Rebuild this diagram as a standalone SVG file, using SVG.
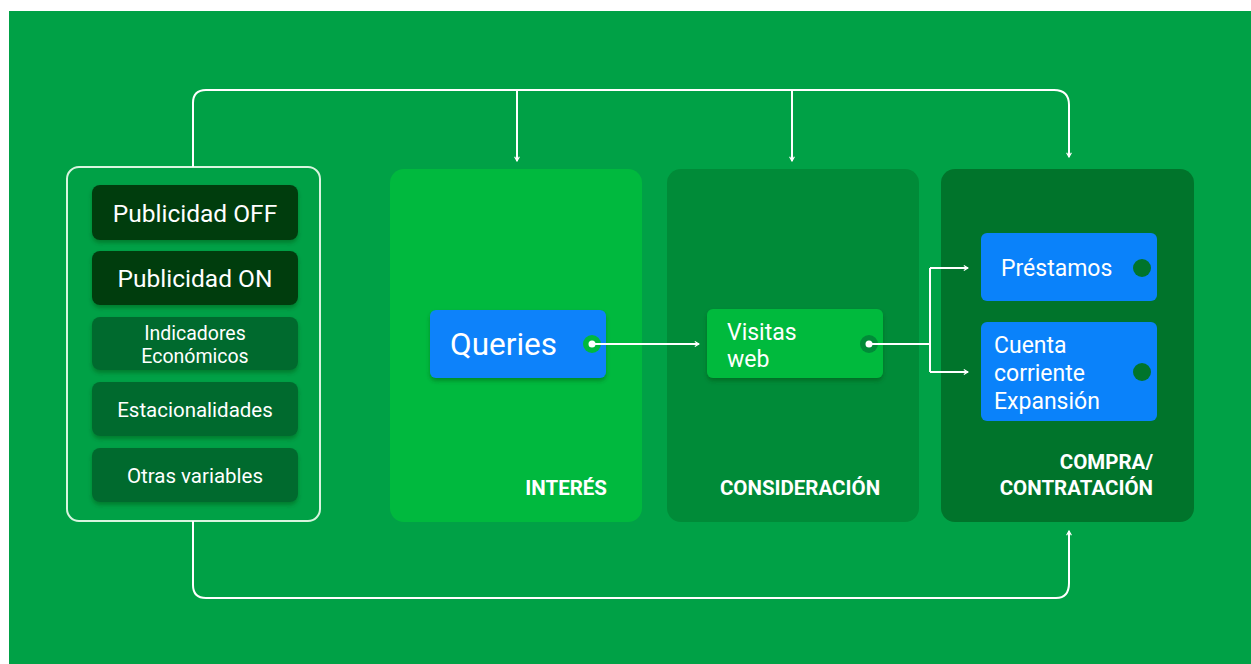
<svg xmlns="http://www.w3.org/2000/svg" width="1251" height="664" viewBox="0 0 1251 664">
  <defs>
    <marker id="ah" viewBox="0 0 10 10" refX="8" refY="5" markerWidth="6" markerHeight="6" orient="auto-start-reverse" markerUnits="userSpaceOnUse">
      <path d="M1,1 L8,5 L1,9" fill="none" stroke="#ffffff" stroke-width="2"/>
    </marker>
    <filter id="sh" x="-10%" y="-10%" width="120%" height="130%">
      <feDropShadow dx="0" dy="3" stdDeviation="2" flood-color="#003a10" flood-opacity="0.35"/>
    </filter>
  </defs>
  <style>
    .t { font-family: Roboto, "Liberation Sans", sans-serif; fill: #ffffff; }
    .lbl { font-family: Roboto, "Liberation Sans", sans-serif; font-weight: 700; fill: #ffffff; font-size: 20.5px; }
    .wire { fill: none; stroke: #ffffff; stroke-width: 2; }
    .dark { fill: #003d0f; }
    .mid { fill: #006b2e; }
    .blue { fill: #0a82fa; }
  </style>

  <rect x="0" y="0" width="1251" height="664" fill="#ffffff"/>
  <rect x="9" y="11" width="1242" height="653" fill="#00a146"/>

  <!-- stage columns -->
  <g id="interes">
    <rect x="390" y="169" width="252" height="353" rx="14" fill="#00b93e"/>
    <text class="lbl" x="607" y="495" text-anchor="end">INTERÉS</text>
  </g>
  <g id="consideracion">
    <rect x="667" y="169" width="252" height="353" rx="14" fill="#008b38"/>
    <text class="lbl" x="800" y="495" text-anchor="middle">CONSIDERACIÓN</text>
  </g>
  <g id="compra">
    <rect x="941" y="169" width="253" height="353" rx="14" fill="#00742b"/>
    <text class="lbl" x="1153" y="469" text-anchor="end">COMPRA/</text>
    <text class="lbl" x="1153" y="495" text-anchor="end">CONTRATACIÓN</text>
  </g>

  <!-- variables panel -->
  <g id="variables">
    <rect x="67" y="167" width="253" height="354" rx="12" fill="none" stroke="#d8f5df" stroke-width="2"/>
    <g id="pub-off">
      <rect class="dark" x="92" y="185" width="206" height="55" rx="8" filter="url(#sh)"/>
      <text class="t" x="195" y="222" font-size="24.5" text-anchor="middle">Publicidad OFF</text>
    </g>
    <g id="pub-on">
      <rect class="dark" x="92" y="251" width="206" height="54" rx="8" filter="url(#sh)"/>
      <text class="t" x="195" y="287" font-size="24.5" text-anchor="middle">Publicidad ON</text>
    </g>
    <g id="indicadores">
      <rect class="mid" x="92" y="317" width="206" height="53" rx="8" filter="url(#sh)"/>
      <text class="t" x="195" y="340" font-size="19.5" text-anchor="middle">Indicadores</text>
      <text class="t" x="195" y="363" font-size="19.5" text-anchor="middle">Económicos</text>
    </g>
    <g id="estacionalidades">
      <rect class="mid" x="92" y="382" width="206" height="54" rx="8" filter="url(#sh)"/>
      <text class="t" x="195" y="417" font-size="20.5" text-anchor="middle">Estacionalidades</text>
    </g>
    <g id="otras">
      <rect class="mid" x="92" y="448" width="206" height="54" rx="8" filter="url(#sh)"/>
      <text class="t" x="195" y="483" font-size="20.5" text-anchor="middle">Otras variables</text>
    </g>
  </g>

  <!-- inner nodes -->
  <g id="queries">
    <rect class="blue" x="430" y="310" width="176" height="68" rx="6" filter="url(#sh)"/>
    <text class="t" x="450" y="355" font-size="31.5">Queries</text>
    <circle cx="592" cy="344" r="9" fill="#00b93e"/>
  </g>
  <g id="visitas">
    <rect x="707" y="309" width="176" height="69" rx="6" fill="#00ba3d" filter="url(#sh)"/>
    <text class="t" x="727" y="340" font-size="23">Visitas</text>
    <text class="t" x="727" y="367" font-size="23">web</text>
    <circle cx="869" cy="344" r="9" fill="#008b38"/>
  </g>
  <g id="prestamos">
    <rect class="blue" x="981" y="233" width="176" height="68" rx="6"/>
    <text class="t" x="1001" y="276" font-size="23">Préstamos</text>
    <circle cx="1142" cy="268" r="9" fill="#00742b"/>
  </g>
  <g id="cuenta">
    <rect class="blue" x="981" y="322" width="176" height="99" rx="6"/>
    <text class="t" x="994" y="353" font-size="23">Cuenta</text>
    <text class="t" x="994" y="381" font-size="23">corriente</text>
    <text class="t" x="994" y="409" font-size="23">Expansión</text>
    <circle cx="1142" cy="372" r="9" fill="#00742b"/>
  </g>

  <!-- connectors -->
  <g id="connectors">
    <path class="wire" d="M193,167 V103 Q193,90 206,90 H1054 Q1069,90 1069,105 V157" marker-end="url(#ah)"/>
    <path class="wire" d="M517,90 V161" marker-end="url(#ah)"/>
    <path class="wire" d="M792,90 V161" marker-end="url(#ah)"/>
    <path class="wire" d="M193,521 V585 Q193,598 206,598 H1056 Q1069,598 1069,583 V531" marker-end="url(#ah)"/>
    <path class="wire" d="M592,344 H699" marker-end="url(#ah)"/>
    <path class="wire" d="M869,344 H930 M930,268 V372"/>
    <path class="wire" d="M930,268 H968" marker-end="url(#ah)"/>
    <path class="wire" d="M930,372 H968" marker-end="url(#ah)"/>
    <circle cx="592" cy="344" r="3.5" fill="#ffffff"/>
    <circle cx="869" cy="344" r="3.5" fill="#ffffff"/>
  </g>
</svg>
